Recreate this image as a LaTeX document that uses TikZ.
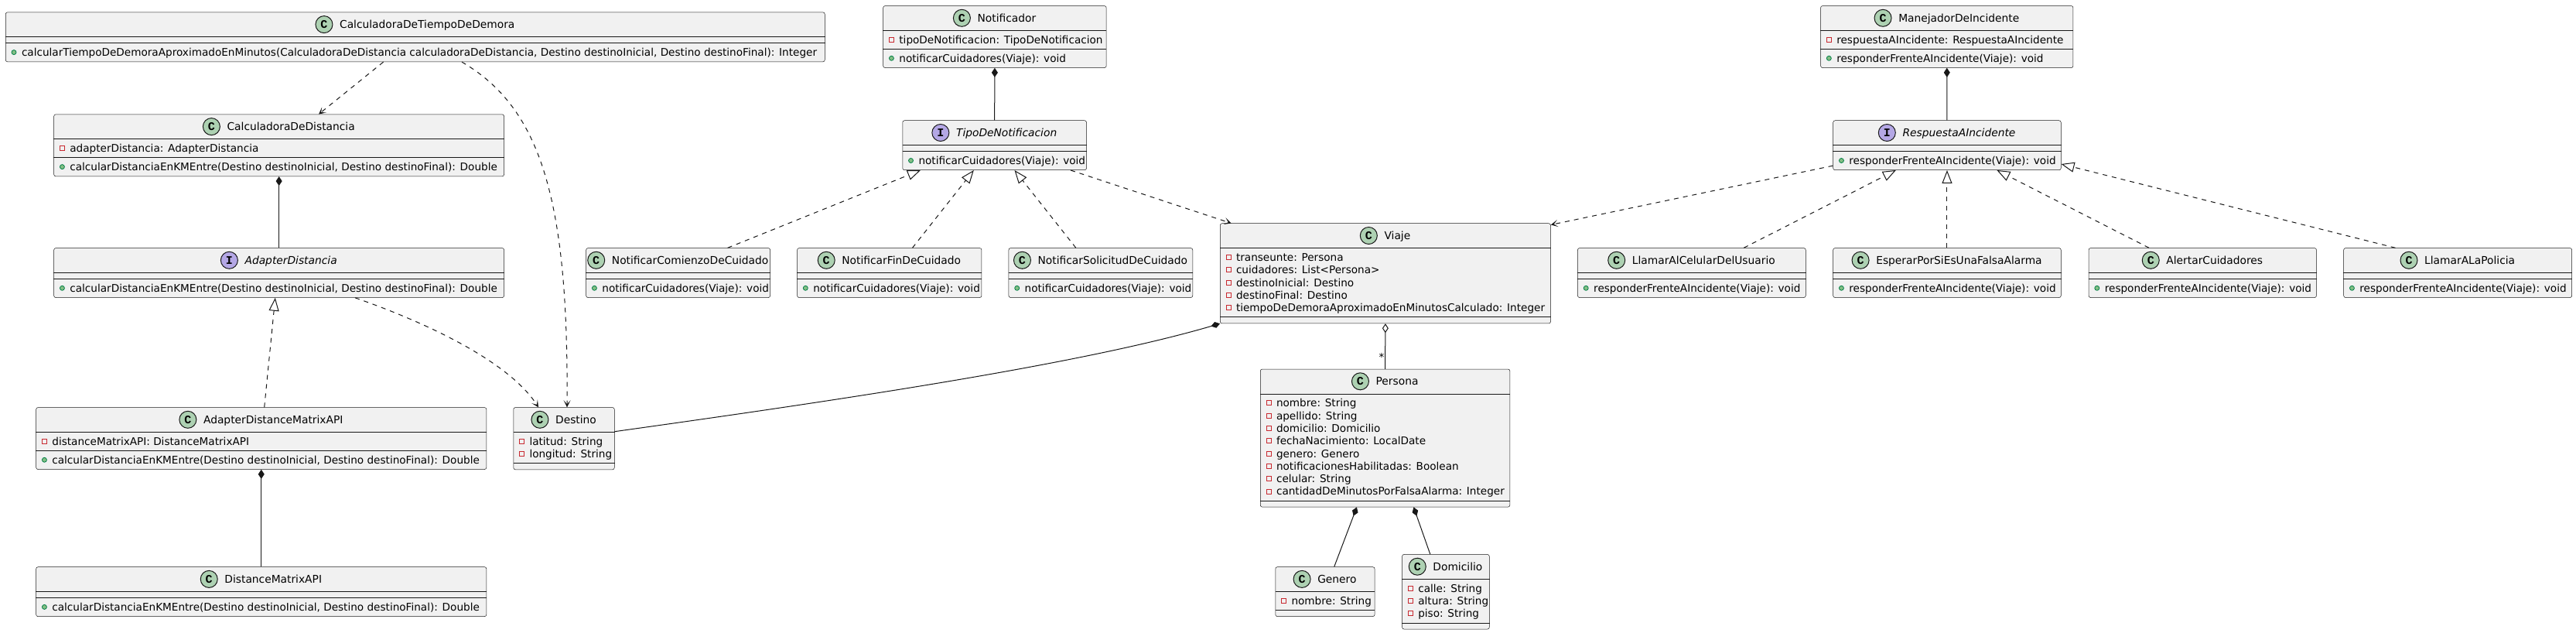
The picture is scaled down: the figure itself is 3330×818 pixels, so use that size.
\documentclass[tikz,border=0pt]{standalone}
\usepackage{fontspec}
\setmainfont{DejaVu Sans}
\newfontfamily\circfont{Liberation Mono}
\usetikzlibrary{arrows.meta,calc}
\definecolor{cfill}{HTML}{F1F1F1}
\definecolor{cborder}{HTML}{181818}
\definecolor{ccirc}{HTML}{ADD1B2}
\definecolor{icirc}{HTML}{B4A7E5}
\definecolor{cpriv}{HTML}{C82930}
\definecolor{cpubf}{HTML}{84BE84}
\definecolor{cpubd}{HTML}{038048}
\tikzset{
  classbox/.style={draw=cborder, fill=cfill, line width=0.5pt, rounded corners=2.5pt, inner sep=0pt},
  sepline/.style={draw=cborder, line width=0.5pt},
  titletext/.style={inner sep=0pt, font=\fontsize{13.8}{16}\selectfont, text=black},
  membertext/.style={inner sep=0pt, font=\fontsize{13.6}{16}\selectfont, text=black},
  privicon/.style={rectangle, draw=cpriv, line width=0.8pt, minimum size=6pt, inner sep=0pt},
  pubicon/.style={circle, draw=cpubd, fill=cpubf, line width=0.8pt, minimum size=6pt, inner sep=0pt},
  Ccirc/.style={circle, draw=cborder, line width=1pt, fill=ccirc, minimum size=22pt, inner sep=0pt, font=\circfont\bfseries\fontsize{15}{15}\selectfont},
  Icirc/.style={circle, draw=cborder, line width=1pt, fill=icirc, minimum size=22pt, inner sep=0pt, font=\circfont\bfseries\fontsize{15}{15}\selectfont},
  conn/.style={draw=cborder, line width=1pt},
  dashedconn/.style={conn, dash pattern=on 6pt off 6pt},
  depline/.style={dashedconn, -{Stealth[length=9pt,width=9pt,inset=5pt]}},
  realline/.style={dashedconn, -{Triangle[open,length=17pt,width=13pt,fill=white]}},
  compline/.style={conn, {Diamond[length=12pt,width=8pt]}-},
  aggrline/.style={conn, {Diamond[open,length=12pt,width=8pt,fill=white]}-},
}
% id, x, y, w, kind (C/I), title, nattr, nmeth
\newcommand\umlclass[8]{%
  \pgfmathsetmacro\cA{#7==0 ? 8 : 24+16.3*(#7-1)}%
  \pgfmathsetmacro\cM{#8==0 ? 8 : 24+16.3*(#8-1)}%
  \pgfmathsetmacro\cH{32+\cA+\cM}%
  \node[classbox, minimum width=#4pt, minimum height=\cH pt, anchor=north west] (#1) at (#2,#3) {};
  \draw[sepline] ([yshift=-32pt]#1.north west) -- ([yshift=-32pt]#1.north east);
  \draw[sepline] ([yshift=-32pt-\cA pt]#1.north west) -- ([yshift=-32pt-\cA pt]#1.north east);
  \node[titletext, anchor=base] (#1-t) at ([xshift=15.5pt, yshift=-21pt]#1.north) {\ifx I#5\itshape\fi #6};
  \node[#5circ] (#1-c) at ([xshift=-20pt, yshift=5pt]#1-t.base west) {#5};
  \expandafter\xdef\csname cA@#1\endcsname{\cA}%
}
\newcommand\umlattrs[2]{%
  \foreach \t [count=\k from 0] in {#2} {%
    \pgfmathsetmacro\yy{32+12+16.3*\k}%
    \node[membertext, anchor=base west] (#1-a\k) at ([xshift=20.8pt, yshift=-\yy pt-5pt]#1.north west) {\t};
    \node[privicon] (#1-ai\k) at ([xshift=11pt, yshift=-\yy pt]#1.north west) {};
  }}
\newcommand\umlmeths[2]{%
  \foreach \t [count=\k from 0] in {#2} {%
    \pgfmathsetmacro\yy{32+\csname cA@#1\endcsname+12+16.3*\k}%
    \node[membertext, anchor=base west] (#1-m\k) at ([xshift=20.8pt, yshift=-\yy pt-5pt]#1.north west) {\t};
    \node[pubicon] (#1-mi\k) at ([xshift=11pt, yshift=-\yy pt]#1.north west) {};
  }}
\begin{document}
\begin{tikzpicture}[x=1pt,y=-1pt]
\fill[white] (0,0) rectangle (3330,818);
\useasboundingbox (0,0) rectangle (3330,818);

% left group
\umlclass{ctdd}{7}{15.6}{1059}{C}{CalculadoraDeTiempoDeDemora}{0}{1}
\umlmeths{ctdd}{{calcularTiempoDeDemoraAproximadoEnMinutos(CalculadoraDeDistancia calculadoraDeDistancia, Destino destinoInicial, Destino destinoFinal): Integer}}

\umlclass{calcdist}{69.4}{147.6}{582}{C}{CalculadoraDeDistancia}{1}{1}
\umlattrs{calcdist}{adapterDistancia: AdapterDistancia}
\umlmeths{calcdist}{{calcularDistanciaEnKMEntre(Destino destinoInicial, Destino destinoFinal): Double}}

\umlclass{adapter}{69.4}{320.3}{582}{I}{AdapterDistancia}{0}{1}
\umlmeths{adapter}{{calcularDistanciaEnKMEntre(Destino destinoInicial, Destino destinoFinal): Double}}

\umlclass{admapi}{46.4}{526.3}{582.2}{C}{AdapterDistanceMatrixAPI}{1}{1}
\umlattrs{admapi}{distanceMatrixAPI: DistanceMatrixAPI}
\umlmeths{admapi}{{calcularDistanciaEnKMEntre(Destino destinoInicial, Destino destinoFinal): Double}}

\umlclass{dmapi}{46.4}{732.4}{582.2}{C}{DistanceMatrixAPI}{0}{1}
\umlmeths{dmapi}{{calcularDistanciaEnKMEntre(Destino destinoInicial, Destino destinoFinal): Double}}

\umlclass{destino}{663.5}{526.3}{130.5}{C}{Destino}{2}{0}
\umlattrs{destino}{latitud: String, longitud: String}

% notification group
\umlclass{notificador}{1141.4}{7.3}{288.5}{C}{Notificador}{1}{1}
\umlattrs{notificador}{tipoDeNotificacion: TipoDeNotificacion}
\umlmeths{notificador}{notificarCuidadores(Viaje): void}

\umlclass{tdn}{1166.5}{155.5}{237.8}{I}{TipoDeNotificacion}{0}{1}
\umlmeths{tdn}{notificarCuidadores(Viaje): void}

\umlclass{ncdc}{757.4}{320.3}{238}{C}{NotificarComienzoDeCuidado}{0}{1}
\umlmeths{ncdc}{notificarCuidadores(Viaje): void}
\umlclass{nfdc}{1030.3}{320.3}{238.4}{C}{NotificarFinDeCuidado}{0}{1}
\umlmeths{nfdc}{notificarCuidadores(Viaje): void}
\umlclass{nsdc}{1303.7}{320.3}{237.8}{C}{NotificarSolicitudDeCuidado}{0}{1}
\umlmeths{nsdc}{notificarCuidadores(Viaje): void}

% viaje group
\umlclass{viaje}{1577}{288.5}{427.3}{C}{Viaje}{5}{0}
\umlattrs{viaje}{transeunte: Persona, cuidadores: List<Persona>, destinoInicial: Destino, destinoFinal: Destino, tiempoDeDemoraAproximadoEnMinutosCalculado: Integer}

\umlclass{persona}{1629}{476.8}{322.6}{C}{Persona}{8}{0}
\umlattrs{persona}{nombre: String, apellido: String, domicilio: Domicilio, fechaNacimiento: LocalDate, genero: Genero, notificacionesHabilitadas: Boolean, celular: String, cantidadDeMinutosPorFalsaAlarma: Integer}

\umlclass{genero}{1648.5}{732.4}{128.3}{C}{Genero}{1}{0}
\umlattrs{genero}{nombre: String}

\umlclass{domicilio}{1812.3}{716.2}{112.7}{C}{Domicilio}{3}{0}
\umlattrs{domicilio}{calle: String, altura: String, piso: String}

% incident group
\umlclass{manejador}{2353.3}{7.3}{326.4}{C}{ManejadorDeIncidente}{1}{1}
\umlattrs{manejador}{respuestaAIncidente: RespuestaAIncidente}
\umlmeths{manejador}{responderFrenteAIncidente(Viaje): void}

\umlclass{rai}{2369.4}{155.5}{294.6}{I}{RespuestaAIncidente}{0}{1}
\umlmeths{rai}{responderFrenteAIncidente(Viaje): void}

\umlclass{lacdu}{2039.2}{320.3}{294.8}{C}{LlamarAlCelularDelUsuario}{0}{1}
\umlmeths{lacdu}{responderFrenteAIncidente(Viaje): void}
\umlclass{epseufa}{2369.4}{320.3}{294.6}{C}{EsperarPorSiEsUnaFalsaAlarma}{0}{1}
\umlmeths{epseufa}{responderFrenteAIncidente(Viaje): void}
\umlclass{alertar}{2699.8}{320.3}{294.4}{C}{AlertarCuidadores}{0}{1}
\umlmeths{alertar}{responderFrenteAIncidente(Viaje): void}
\umlclass{policia}{3029.4}{320.3}{295}{C}{LlamarALaPolicia}{0}{1}
\umlmeths{policia}{responderFrenteAIncidente(Viaje): void}

% connectors
\draw[depline] ([xshift=488.6pt]ctdd.south west) -- ([xshift=342.6pt]calcdist.north west);
\draw[depline] ([xshift=590pt]ctdd.south west) .. controls (700,140) and (735,260) .. ([xshift=69.5pt]destino.north west);
\draw[compline] (calcdist.south) -- (adapter.north);
\draw[realline] ([xshift=295.3pt]admapi.north west) -- ([xshift=286.4pt]adapter.south west);
\draw[depline] ([xshift=389.6pt]adapter.south west) .. controls (560,420) and (660,470) .. ([xshift=32.5pt]destino.north west);
\draw[compline] (admapi.south) -- (dmapi.north);

\draw[compline] (notificador.south) -- (tdn.north);
\draw[realline] ([xshift=183.2pt]ncdc.north west) -- ([xshift=23.5pt]tdn.south west);
\draw[realline] ([xshift=149.2pt]nfdc.north west) -- ([xshift=92.3pt]tdn.south west);
\draw[realline] ([xshift=87.1pt]nsdc.north west) -- ([xshift=145pt]tdn.south west);
\draw[depline] ([xshift=217.5pt]tdn.south west) -- ([xshift=14.6pt]viaje.north west);

\draw[compline] (viaje.south west) .. controls (1400,470) and (1100,515) .. ([yshift=9pt]destino.east);
\draw[aggrline] (viaje.south) -- (persona.north);
\node[membertext] (mult) at ([xshift=-4.5pt,yshift=15pt]persona.north) {*};
\draw[compline] ([xshift=124.9pt]persona.south west) -- ([xshift=76.2pt]genero.north west);
\draw[compline] ([xshift=198.4pt]persona.south west) -- ([xshift=36.5pt]domicilio.north west);

\draw[compline] (manejador.south) -- (rai.north);
\draw[depline] ([yshift=-26.4pt]rai.west) -- ([yshift=-2pt]viaje.north east);
\draw[realline] ([xshift=215pt]lacdu.north west) -- ([xshift=81.4pt]rai.south west);
\draw[realline] (epseufa.north) -- (rai.south);
\draw[realline] ([xshift=78.2pt]alertar.north west) -- ([xshift=212pt]rai.south west);
\draw[realline] ([xshift=67.1pt]policia.north west) -- ([yshift=8pt]rai.south east);
\end{tikzpicture}
\end{document}
